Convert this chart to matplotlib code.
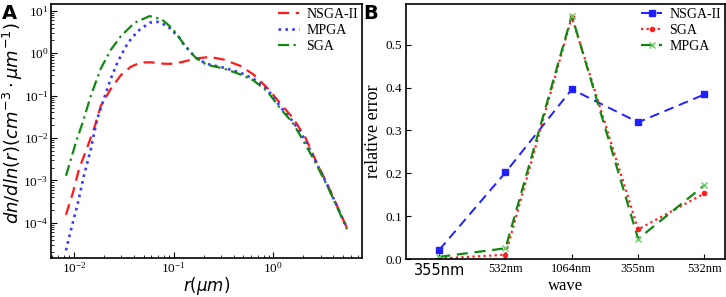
import numpy as np
import matplotlib
matplotlib.use('Agg')
import matplotlib.pyplot as plt
from matplotlib.ticker import NullFormatter

plt.rcParams.update({
    'font.family': 'serif',
    'font.serif': ['Liberation Serif', 'DejaVu Serif'],
    'mathtext.fontset': 'stix',
    'axes.linewidth': 1.2,
})

# ---- panel A: size distribution (log10 r, log10 dn/dlnr) ----
nsga_logr = [-2.08, -2.01, -1.95, -1.86, -1.79, -1.73, -1.63, -1.53, -1.43, -1.33,
             -1.23, -1.09, -1.00, -0.90, -0.77, -0.63, -0.50, -0.33, -0.20, -0.06,
             0.07, 0.20, 0.32, 0.41, 0.54, 0.64, 0.74]
nsga_logv = [-3.81, -3.29, -2.74, -2.18, -1.72, -1.24, -0.84, -0.52, -0.32, -0.22,
             -0.215, -0.25, -0.25, -0.20, -0.12, -0.09, -0.15, -0.30, -0.50, -0.82,
             -1.18, -1.54, -1.98, -2.45, -3.08, -3.60, -4.13]

mpga_logr = [-2.08, -2.03, -1.96, -1.90, -1.83, -1.77, -1.70, -1.63, -1.56, -1.46,
             -1.36, -1.24, -1.16, -1.06, -0.94, -0.90, -0.78, -0.67, -0.50, -0.33,
             -0.20, -0.06, 0.07, 0.20, 0.32, 0.41, 0.54, 0.64, 0.74]
mpga_logv = [-4.65, -4.17, -3.53, -2.89, -2.26, -1.58, -1.08, -0.60, -0.20, 0.24,
             0.52, 0.72, 0.74, 0.64, 0.36, 0.215, -0.105, -0.25, -0.34, -0.46,
             -0.60, -0.85, -1.26, -1.62, -2.05, -2.48, -3.10, -3.61, -4.13]

sga_logr = [-2.08, -2.03, -1.98, -1.91, -1.83, -1.73, -1.63, -1.53, -1.39, -1.24,
            -1.12, -1.02, -0.94, -0.90, -0.78, -0.67, -0.50, -0.33, -0.20, -0.06,
            0.07, 0.20, 0.29, 0.41, 0.54, 0.64, 0.74]
sga_logv = [-2.89, -2.50, -2.10, -1.62, -1.00, -0.36, 0.08, 0.40, 0.72, 0.875,
            0.80, 0.60, 0.36, 0.215, -0.105, -0.27, -0.36, -0.50, -0.64, -0.90,
            -1.30, -1.66, -2.02, -2.52, -3.12, -3.63, -4.15]

# ---- panel B: relative error per wavelength ----
waves = ['355nm', '532nm', '1064nm', '355nm', '532nm']
err_nsga = [0.021, 0.202, 0.396, 0.319, 0.384]
err_sga = [0.001, 0.010, 0.565, 0.069, 0.153]
err_mpga = [0.005, 0.025, 0.568, 0.047, 0.172]

W, H = 726.0, 297.0
fig = plt.figure(figsize=(7.26, 2.97), dpi=100)
axA = fig.add_axes([51 / W, 1 - 258 / H, (362 - 51) / W, (258 - 4) / H])
axB = fig.add_axes([406 / W, 1 - 259 / H, (725 - 406) / W, (259 - 4) / H])

lw = 1.6
axA.plot(10 ** np.array(nsga_logr), 10 ** np.array(nsga_logv), color='#ff1a1a',
         ls=(0, (5, 3)), lw=lw, label='NSGA-II')
axA.plot(10 ** np.array(mpga_logr), 10 ** np.array(mpga_logv), color='#3a3aff',
         ls=(0, (1, 1.6)), lw=lw + 0.3, label='MPGA')
axA.plot(10 ** np.array(sga_logr), 10 ** np.array(sga_logv), color='#118811',
         ls=(0, (5, 2, 1, 2)), lw=lw, label='SGA')
axA.set_xscale('log')
axA.set_yscale('log')
axA.set_xlim(10 ** -2.23, 10 ** 0.89)
axA.set_ylim(10 ** -4.83, 10 ** 1.16)
axA.xaxis.set_minor_formatter(NullFormatter())
axA.yaxis.set_minor_formatter(NullFormatter())
axA.tick_params(which='both', direction='in', labelsize=9.5, pad=2)
axA.tick_params(which='major', length=4)
axA.tick_params(which='minor', length=2)
axA.set_xlabel(r'$r(\mu m)$', fontsize=12, math_fontfamily='dejavusans', labelpad=0)
axA.set_ylabel(r'$dn/dln(r)(cm^{-3}\cdot\mu m^{-1})$', fontsize=13,
               math_fontfamily='dejavusans', va='center')
axA.yaxis.set_label_coords(-0.122, 0.53)
axA.legend(loc='upper right', frameon=False, fontsize=10, handlelength=1.5,
           labelspacing=0.2, borderaxespad=0.0, handletextpad=0.5,
           borderpad=0.3)

x = np.arange(len(waves))
axB.plot(x, err_nsga, color='#1f1fff', ls=(0, (5, 3)), lw=1.4, marker='s',
         ms=5, label='NSGA-II')
axB.plot(x, err_sga, color='#ff2020', ls=(0, (1, 1.5)), lw=1.6, marker='o',
         ms=3, label='SGA')
axB.plot(x, err_mpga, color='#118811', ls=(0, (5, 3)), lw=1.6, marker='x',
         ms=5, mec='#66cc66', label='MPGA')
axB.set_xlim(-0.5, 4.31)
axB.set_ylim(0, 0.595)
axB.set_xticks(x)
axB.set_xticklabels(waves)
axB.set_yticks([0, 0.1, 0.2, 0.3, 0.4, 0.5])
axB.tick_params(axis='y', direction='in', labelsize=9.5, pad=3)
axB.tick_params(axis='x', direction='in', labelsize=9, pad=3)
axB.get_xticklabels()[0].set_fontfamily('DejaVu Sans')
axB.get_xticklabels()[0].set_fontsize(10.5)
axB.set_xlabel('wave', fontsize=12, labelpad=0)
axB.set_ylabel('relative error', fontsize=13, labelpad=2)
axB.legend(loc='upper right', frameon=False, fontsize=10, handlelength=1.5,
           labelspacing=0.2, borderaxespad=0.0, handletextpad=0.5,
           borderpad=0.3)

fig.text(0.003, 0.985, 'A', fontsize=14, fontweight='bold', family='DejaVu Sans',
         ha='left', va='top')
fig.text(0.501, 0.985, 'B', fontsize=14, fontweight='bold', family='DejaVu Sans',
         ha='left', va='top')

fig.savefig('out.png', dpi=100)
